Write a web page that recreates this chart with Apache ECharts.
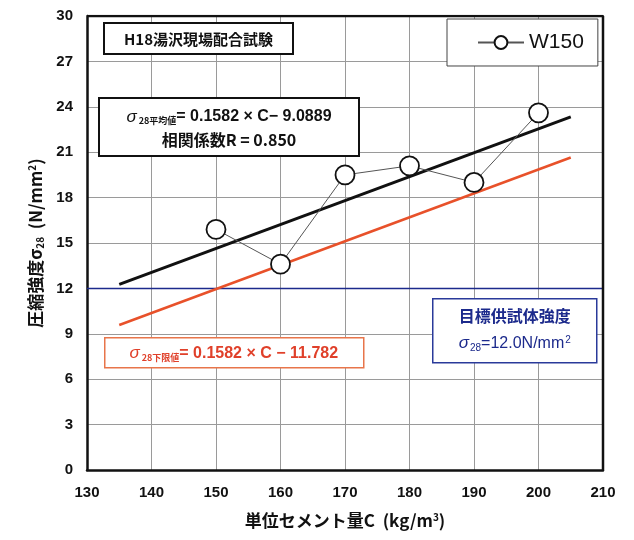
<!DOCTYPE html>
<html>
<head>
<meta charset="utf-8">
<script src="https://cdn.jsdelivr.net/npm/echarts@6/dist/echarts.min.js"></script>
<style>html,body{margin:0;padding:0;background:#fff}#main{width:634px;height:540px}</style>
</head>
<body>
<div id="main"></div>
<script>
// 単位セメント量と圧縮強度
var cementAmount = [150, 160, 170, 180, 190, 200];
var strengthW150 = [15.9, 13.6, 19.5, 20.1, 19.0, 23.6];
// 回帰直線の両端（平均値・下限値）
var meanLine = [[135, 12.27], [205, 23.34]];
var lowerLine = [[135, 9.58], [205, 20.65]];
var targetLine = [[130, 12.0], [210, 12.0]];

var myChart = echarts.init(document.getElementById('main'));
var FONT = '"Liberation Sans", "Noto Sans CJK JP", sans-serif';
var CJK = '"Noto Sans CJK JP", "Liberation Sans", sans-serif';

var option = {
  backgroundColor: '#fff',
  animation: false,
  grid: { left: 87, right: 31, top: 16, bottom: 70 },
  legend: {
    left: 447, top: 19, width: 110, height: 49,
    padding: [13, 14, 13, 30],
    backgroundColor: '#fff',
    borderColor: '#444', borderWidth: 1,
    itemWidth: 46, itemHeight: 16, itemGap: 6,
    textStyle: { fontFamily: FONT, fontSize: 21, color: '#111' },
    data: ['W150'],
    z: 20
  },
  xAxis: {
    type: 'value', min: 130, max: 210, interval: 10,
    name: '単位セメント量C  (kg/m{sup|3})',
    nameLocation: 'middle', nameGap: 42,
    nameTextStyle: { fontFamily: CJK, fontSize: 17, fontWeight: 'bold', color: '#111',
      rich: { sup: { fontSize: 10, fontWeight: 'bold', verticalAlign: 'top', padding: [0, 0, 8, 0] } } },
    axisLine: { show: true, lineStyle: { color: '#111', width: 2.5 } },
    axisTick: { show: false },
    axisLabel: { margin: 15, fontFamily: FONT, fontSize: 15, fontWeight: 'bold', color: '#111' },
    splitLine: { show: true, lineStyle: { color: '#9a9a9a', width: 1 } }
  },
  yAxis: {
    type: 'value', min: 0, max: 30, interval: 3,
    name: '圧縮強度σ{sub|28}  (N/mm{sup|2})',
    nameLocation: 'middle', nameGap: 42, nameRotate: 90,
    nameTextStyle: { fontFamily: CJK, fontSize: 17, fontWeight: 'bold', color: '#111',
      rich: {
        sub: { fontSize: 10, fontWeight: 'bold', verticalAlign: 'bottom' },
        sup: { fontSize: 10, fontWeight: 'bold', verticalAlign: 'top', padding: [0, 0, 8, 0] }
      } },
    axisLine: { show: true, lineStyle: { color: '#111', width: 2.5 } },
    axisTick: { show: false },
    axisLabel: { margin: 14, fontFamily: FONT, fontSize: 15, fontWeight: 'bold', color: '#111' },
    splitLine: { show: true, lineStyle: { color: '#9a9a9a', width: 1 } }
  },
  series: [
    {
      name: 'target', type: 'line', data: targetLine, symbol: 'none',
      lineStyle: { color: '#1c2a8c', width: 1.5 }, z: 3
    },
    {
      name: 'lower', type: 'line', data: lowerLine, symbol: 'none',
      lineStyle: { color: '#e8512a', width: 2.5 }, z: 4
    },
    {
      name: 'mean', type: 'line', data: meanLine, symbol: 'none',
      lineStyle: { color: '#111', width: 3 }, z: 5
    },
    {
      name: 'W150', type: 'line',
      data: cementAmount.map(function (c, i) { return [c, strengthW150[i]]; }),
      symbol: 'circle', symbolSize: 19,
      itemStyle: { color: '#fff', borderColor: '#111', borderWidth: 1.8 },
      lineStyle: { color: '#555', width: 1 }, z: 6
    },
    // 右端の枠線
    {
      name: 'frame', type: 'line', data: [[210, 0], [210, 30], [130, 30]], symbol: 'none',
      lineStyle: { color: '#111', width: 2.5 }, z: 7, silent: true
    }
  ],
  graphic: [
    {
      type: 'group', left: 103, top: 22, z: 100, children: [
        { type: 'rect', z: 100, shape: { x: 0, y: 0, width: 189, height: 31 },
          style: { fill: '#fff', stroke: '#111', lineWidth: 2 } },
        { type: 'text', z: 101, x: 94.5, y: 16,
          style: { text: 'H18湯沢現場配合試験', font: 'bold 15px ' + CJK, fill: '#111',
            align: 'center', verticalAlign: 'middle' } }
      ]
    },
    {
      type: 'group', left: 98, top: 97, z: 100, children: [
        { type: 'rect', z: 100, shape: { x: 0, y: 0, width: 260, height: 58 },
          style: { fill: '#fff', stroke: '#111', lineWidth: 2 } },
        { type: 'text', z: 101, x: 130, y: 19,
          style: { text: '{g|σ}{s|28平均値}= 0.1582 × C− 9.0889', font: 'bold 16px ' + FONT, fill: '#111',
            align: 'center', verticalAlign: 'middle',
            rich: {
              g: { font: 'italic 17px ' + FONT, fill: '#111' },
              s: { font: 'bold 9px ' + CJK, fill: '#111', verticalAlign: 'bottom', padding: [6, 0, 0, 2] }
            } } },
        { type: 'text', z: 101, x: 130, y: 42,
          style: { text: '相関係数R = 0.850', font: 'bold 16px ' + CJK, fill: '#111',
            align: 'center', verticalAlign: 'middle' } }
      ]
    },
    {
      type: 'group', left: 104, top: 337, z: 100, children: [
        { type: 'rect', z: 100, shape: { x: 0, y: 0, width: 259, height: 30 },
          style: { fill: '#fff', stroke: '#e8754a', lineWidth: 1.5 } },
        { type: 'text', z: 101, x: 129, y: 16,
          style: { text: '{g|σ}{s|28下限値}= 0.1582 × C − 11.782', font: 'bold 16px ' + FONT, fill: '#e0402a',
            align: 'center', verticalAlign: 'middle',
            rich: {
              g: { font: 'italic 17px ' + FONT, fill: '#e0402a' },
              s: { font: 'bold 9px ' + CJK, fill: '#e0402a', verticalAlign: 'bottom', padding: [6, 0, 0, 2] }
            } } }
      ]
    },
    {
      type: 'group', left: 432, top: 298, z: 100, children: [
        { type: 'rect', z: 100, shape: { x: 0, y: 0, width: 164, height: 64 },
          style: { fill: '#fff', stroke: '#2a3a9a', lineWidth: 1.5 } },
        { type: 'text', z: 101, x: 82, y: 17,
          style: { text: '目標供試体強度', font: 'bold 16px ' + CJK, fill: '#1c2a8c',
            align: 'center', verticalAlign: 'middle' } },
        { type: 'text', z: 101, x: 82, y: 45,
          style: { text: '{g|σ}{s|28}=12.0N/mm{p|2}', font: '16px ' + FONT, fill: '#1c2a8c',
            align: 'center', verticalAlign: 'middle',
            rich: {
              g: { font: 'italic 17px ' + FONT, fill: '#1c2a8c' },
              s: { font: '10px ' + FONT, fill: '#1c2a8c', verticalAlign: 'bottom', padding: [6, 0, 0, 1] },
              p: { font: '10px ' + FONT, fill: '#1c2a8c', verticalAlign: 'top', padding: [0, 0, 8, 1] }
            } } }
      ]
    }
  ]
};

myChart.setOption(option);
</script>
</body>
</html>
